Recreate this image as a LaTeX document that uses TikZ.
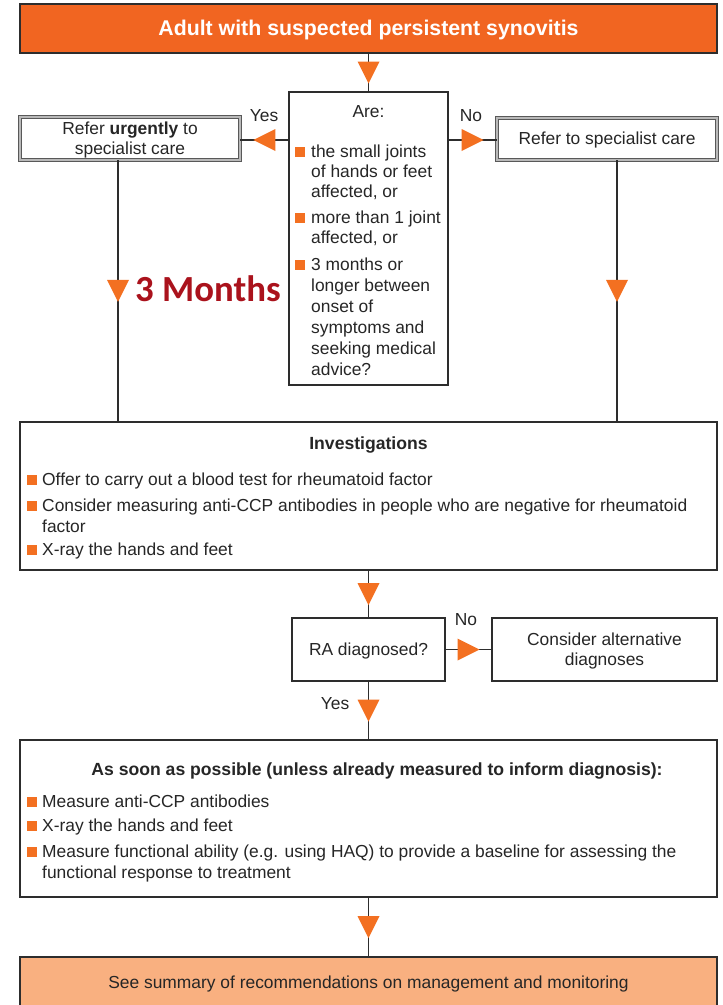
\documentclass[tikz,border=0pt]{standalone}
\usepackage{fontspec}
\setmainfont{Liberation Sans}
\newfontfamily\monthsfont{Carlito}
\usetikzlibrary{decorations.markings}
\definecolor{topor}{RGB}{241,101,33}
\definecolor{acc}{RGB}{243,112,33}
\definecolor{lightor}{RGB}{249,176,128}
\definecolor{monred}{RGB}{170,18,28}
\definecolor{txt}{RGB}{38,38,38}
\definecolor{edge}{RGB}{45,45,45}
\newcommand\bul{\textcolor{acc}{\rule[0pt]{10pt}{10pt}}}
\tikzset{
  box/.style={draw=edge, line width=1.6pt, fill=white, inner sep=0pt, rectangle},
  refbox/.style={draw=black!65, double=gray!55, double distance=2.8pt, line width=0.8pt, fill=white, inner sep=0pt, rectangle},
  lbl/.style={inner sep=0pt, text=txt, font=\fontsize{17.4}{20}\selectfont},
  itm/.style={lbl, align=left, anchor=base west},
  flow/.style={draw=edge, line width=1.6pt, postaction={decorate},
    decoration={markings, mark=at position 0.5 with {\fill[acc] (11pt,0pt) -- (-11pt,11pt) -- (-11pt,-11pt) -- cycle;}}}
}
\begin{document}
\begin{tikzpicture}[x=1pt,y=-1pt]
\useasboundingbox (0,0) rectangle (723,1005);
\clip (0,0) rectangle (723,1005);
\fill[white] (0,0) rectangle (723,1005);

% boxes
\node[box, fill=topor, minimum width=697pt, minimum height=49pt] (top) at (368.5,28.5) {};
\node[box, minimum width=159pt, minimum height=293pt] (q) at (368.5,238.5) {};
\node[refbox, minimum width=220pt, minimum height=43pt] (lb) at (130,138.5) {};
\node[refbox, minimum width=220pt, minimum height=42pt] (rb) at (607,139) {};
\node[box, minimum width=697pt, minimum height=148pt] (inv) at (368.5,496) {};
\node[box, minimum width=153pt, minimum height=63pt] (ra) at (368.5,649.5) {};
\node[box, minimum width=225pt, minimum height=63pt] (alt) at (604.5,649.5) {};
\node[box, minimum width=697pt, minimum height=157pt] (asap) at (368.5,818.5) {};
\node[box, fill=lightor, minimum width=697pt, minimum height=70pt] (sum) at (368.5,992) {};

% connectors
\draw[flow] (top) -- (q);
\draw[flow] (q.west |- 0,140) coordinate (qw) -- (lb.east |- qw);
\draw[flow] (q.east |- 0,140) coordinate (qe) -- (rb.west |- qe);
\draw[flow] ([xshift=-12pt]lb.south) coordinate (lv) -- (lv |- inv.north);
\draw[flow] ([xshift=10pt]rb.south) coordinate (rv) -- (rv |- inv.north);
\draw[flow] (inv) -- (ra);
\draw[flow] (ra) -- (alt);
\draw[flow] (ra) -- (asap);
\draw[flow] (asap.south) -- (sum.north);

% texts (multi-line nodes: base = baseline of last line)
\node[lbl, text=white, font=\fontsize{21.3}{24}\bfseries, anchor=base] (ttop) at (368.5,35) {Adult with suspected persistent synovitis};
\node[lbl, anchor=base] (tare) at (368.5,117) {Are:};
\node[itm] (q1) at (311,197) {\llap{\bul\hspace{6pt}}the small joints\\of hands or feet\\affected, or};
\node[itm] (q2) at (311,243) {\llap{\bul\hspace{6pt}}more than 1 joint\\affected, or};
\node[itm, font=\fontsize{17.4}{21}\selectfont] (q3) at (311,375) {\llap{\bul\hspace{6pt}}3 months or\\longer between\\onset of\\symptoms and\\seeking medical\\advice?};
\node[lbl, align=center, anchor=base] (tlb) at (130,154) {Refer \textbf{urgently} to\\specialist care};
\node[lbl, anchor=base] (trb) at (607,144) {Refer to specialist care};
\node[lbl, anchor=base] (yes1) at (264,121) {Yes};
\node[lbl, anchor=base] (no1) at (471,121) {No};
\node[inner sep=0pt, text=monred, font=\monthsfont\fontsize{36.8}{40}\bfseries, anchor=west] (months) at (135,289) {3 Months};

\node[lbl, font=\fontsize{17.6}{20}\bfseries, anchor=base] (tinv) at (368.5,449) {Investigations};
\node[itm] (i1) at (42,485) {\llap{\bul\hspace{5pt}}Offer to carry out a blood test for rheumatoid factor};
\node[itm, font=\fontsize{17.4}{21}\selectfont] (i2) at (42,532) {\llap{\bul\hspace{5pt}}Consider measuring anti-CCP antibodies in people who are negative for rheumatoid\\factor};
\node[itm] (i3) at (42,555) {\llap{\bul\hspace{5pt}}X-ray the hands and feet};

\node[lbl, anchor=base] (tra) at (368.5,655) {RA diagnosed?};
\node[lbl, anchor=base] (no2) at (466,625) {No};
\node[lbl, align=center, anchor=base] (talt) at (604.5,665) {Consider alternative\\diagnoses};
\node[lbl, anchor=base] (yes2) at (335,709) {Yes};

\node[lbl, font=\fontsize{17.6}{20}\bfseries, anchor=base] (tasap) at (377,775) {As soon as possible (unless already measured to inform diagnosis):};
\node[itm] (a1) at (42,807) {\llap{\bul\hspace{5pt}}Measure anti-CCP antibodies};
\node[itm] (a2) at (42,831) {\llap{\bul\hspace{5pt}}X-ray the hands and feet};
\node[itm, font=\fontsize{17.4}{21}\selectfont] (a3) at (42,878) {\llap{\bul\hspace{5pt}}Measure functional ability (e.g. using HAQ) to provide a baseline for assessing the\\functional response to treatment};

\node[lbl, anchor=base] (tsum) at (368.5,988) {See summary of recommendations on management and monitoring};
\end{tikzpicture}
\end{document}
